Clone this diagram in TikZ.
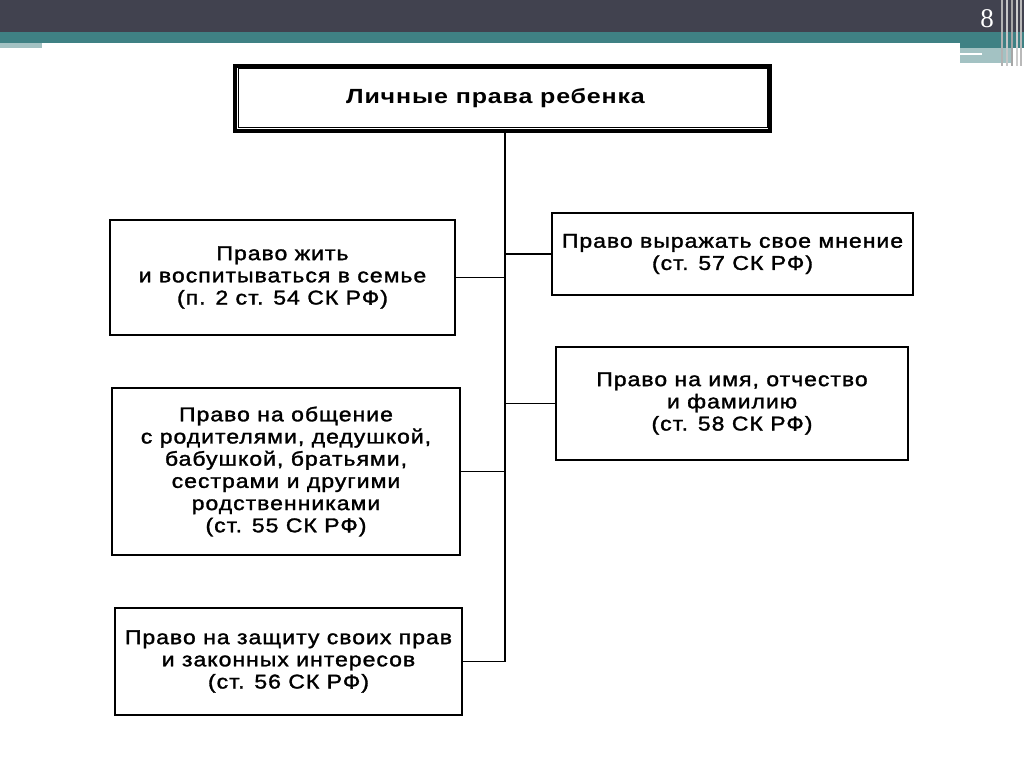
\documentclass[tikz,border=0pt]{standalone}
\usepackage{fontspec}
\setmainfont{Liberation Sans}
\newfontfamily\boxfont[FakeStretch=1.15,LetterSpace=5,FakeBold=1.5]{Liberation Sans}
\newfontfamily\titlefont[FakeStretch=1.22,LetterSpace=4]{Liberation Sans}
\newfontfamily\numfont{Liberation Serif}
\definecolor{barDark}{HTML}{41424F}
\definecolor{barTeal}{HTML}{3F8184}
\definecolor{barLight}{HTML}{A3C2C3}
\begin{document}
\begin{tikzpicture}[x=1pt,y=-1pt,
  rbox/.style={draw=black,line width=1.5pt,fill=white,inner sep=0pt,align=center,
    font=\boxfont\fontsize{20}{22.2}\selectfont},
  conn/.style={draw=black,line width=1.5pt}]
\useasboundingbox (0,0) rectangle (1024,767);
\fill[white] (0,0) rectangle (1024,767);
% header bars
\fill[barDark] (0,0) rectangle (1024,32);
\fill[barTeal] (0,32) rectangle (1024,43);
\fill[barLight] (0,43) rectangle (42,48);
\fill[barTeal] (960,43) rectangle (1024,48);
\fill[barLight] (960,48) rectangle (1012,63);
\fill[white] (960,53) rectangle (982,55);
\foreach \xx/\cc in {1001/gray!60,1006/gray!45,1011/gray!70,1016/gray!40,1020/gray!55}
  \fill[\cc] (\xx,0) rectangle ++(2,66);
\node[text=white,font=\numfont\fontsize{27}{29}\selectfont] (pnum) at (987,19) {8};
% title
\node[draw=black,line width=4pt,fill=white,minimum width=535pt,minimum height=65pt,inner sep=0pt,
  font=\titlefont\bfseries\fontsize{20.5}{23}\selectfont] (title) at (502.5,98.5) {Личные права ребенка\hspace*{14pt}};
\draw[line width=1pt] ([shift={(5,-5)}]title.south west) rectangle ([shift={(-5,5)}]title.north east);
% boxes
\node[rbox,minimum width=345pt,minimum height=115pt] (b1) at (282.5,277.5)
  {Право жить\\и воспитываться в семье\\(п. 2 ст. 54 СК РФ)};
\node[rbox,minimum width=348pt,minimum height=167pt] (b2) at (286,471.5)
  {Право на общение\\с родителями, дедушкой,\\бабушкой, братьями,\\сестрами и другими\\родственниками\\(ст. 55 СК РФ)};
\node[rbox,minimum width=347pt,minimum height=107pt] (b3) at (288.5,661.5)
  {Право на защиту своих прав\\и законных интересов\\(ст. 56 СК РФ)};
\node[rbox,minimum width=361pt,minimum height=82pt] (r1) at (732.5,254)
  {Право выражать свое мнение\\(ст. 57 СК РФ)};
\node[rbox,minimum width=352pt,minimum height=113pt] (r2) at (732,403.5)
  {Право на имя, отчество\\и фамилию\\(ст. 58 СК РФ)};
% trunk
\coordinate (tend) at (505,661.5);
\coordinate (ttop) at (title.south -| tend);
\draw[conn] (ttop) -- (tend);
\draw[conn] (b1.east) -- (b1.east -| tend);
\draw[conn] (b2.east) -- (b2.east -| tend);
\draw[conn] (b3.east) -- (tend);
\draw[conn] (r1.west) -- (r1.west -| tend);
\draw[conn] (r2.west) -- (r2.west -| tend);
\end{tikzpicture}
\end{document}
